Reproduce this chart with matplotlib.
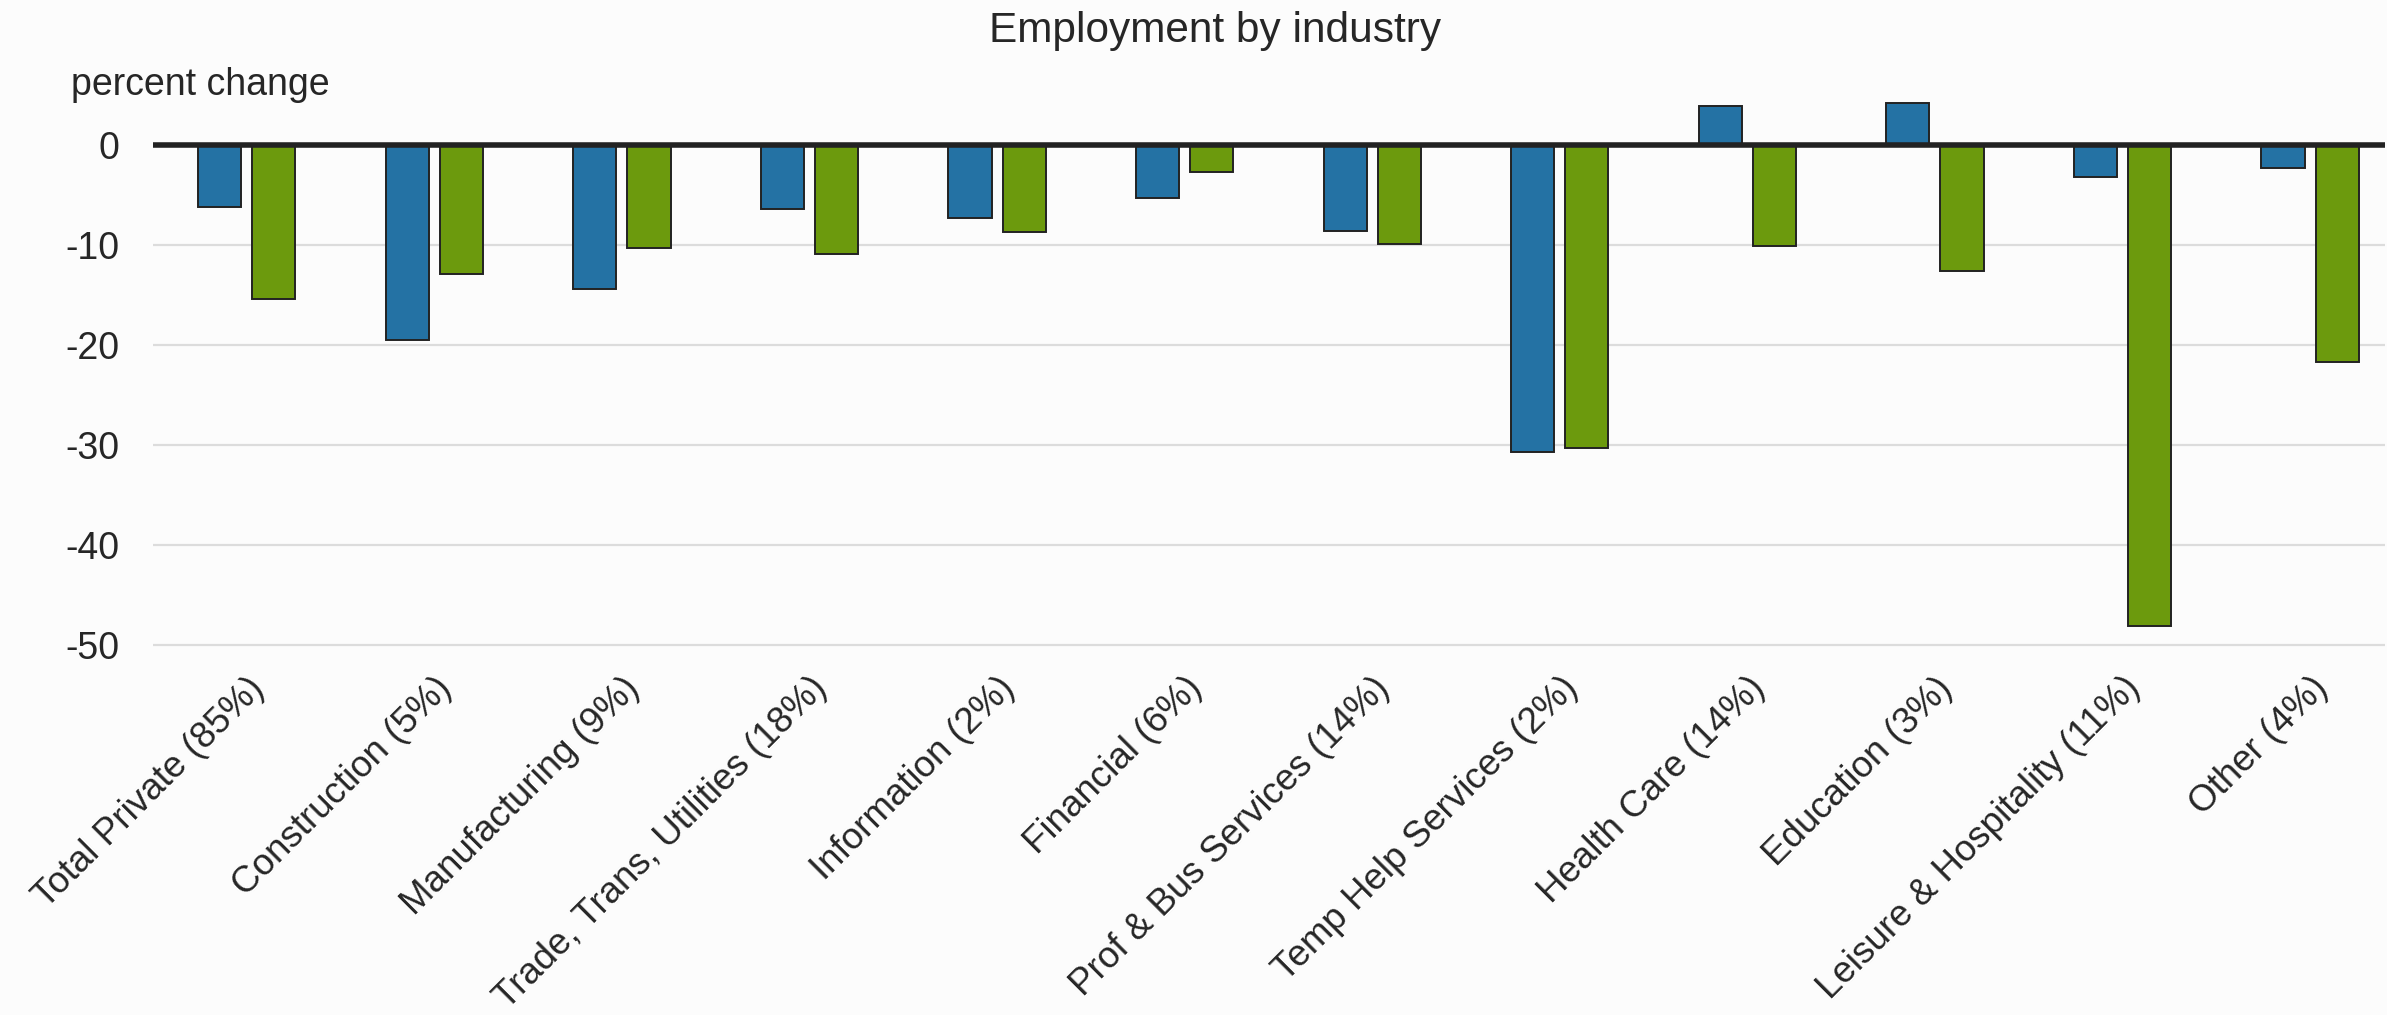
import numpy as np
import matplotlib
matplotlib.use("Agg")
import matplotlib.pyplot as plt

plt.rcParams['font.family'] = ['Liberation Sans', 'DejaVu Sans']

industries = ["Total Private (85%)", "Construction (5%)", "Manufacturing (9%)",
              "Trade, Trans, Utilities (18%)", "Information (2%)", "Financial (6%)",
              "Prof & Bus Services (14%)", "Temp Help Services (2%)", "Health Care (14%)",
              "Education (3%)", "Leisure & Hospitality (11%)", "Other (4%)"]
blue_vals = [-6.2, -19.5, -14.4, -6.4, -7.3, -5.3, -8.6, -30.7, 3.9, 4.2, -3.2, -2.3]
green_vals = [-15.4, -12.9, -10.3, -10.9, -8.7, -2.7, -9.9, -30.3, -10.1, -12.6, -48.1, -21.7]
yticks = [0, -10, -20, -30, -40, -50]

txt = '#262626'
fig = plt.figure(figsize=(23.87, 10.15), dpi=100, facecolor='#fcfcfc')
ax = fig.add_axes([0.0641, 0.3448, 0.9351, 0.5813])
ax.set_facecolor('none')

x = np.arange(len(industries))
w = 0.23
ax.bar(x - 0.144, blue_vals, w, color='#2472a4', edgecolor='#222222', linewidth=1.4, zorder=3)
ax.bar(x + 0.144, green_vals, w, color='#6c9a0d', edgecolor='#222222', linewidth=1.4, zorder=3)
ax.axhline(0, color='#222222', linewidth=4, zorder=4)

ax.set_xlim(-0.5, 11.4)
ax.set_ylim(-52, 7)
ax.set_yticks(yticks)
ax.set_yticklabels([str(v) for v in yticks])
ax.yaxis.grid(True, color='#dcdcdc', linewidth=1.6, zorder=0)
ax.tick_params(axis='y', length=0, pad=24, labelsize=27, labelcolor=txt)
ax.set_xticks(x)
ax.set_xticklabels(industries, rotation=45, ha='right', rotation_mode='anchor', fontsize=26.5, color=txt)
ax.tick_params(axis='x', length=0, pad=4)
for s in ax.spines.values():
    s.set_visible(False)

fig.text(0.509, 0.9695, "Employment by industry", ha='center', va='center', fontsize=30.5, color=txt)
fig.text(0.0297, 0.916, "percent change", ha='left', va='center', fontsize=27, color=txt)

fig.savefig('out.png', dpi=100, facecolor=fig.get_facecolor())
